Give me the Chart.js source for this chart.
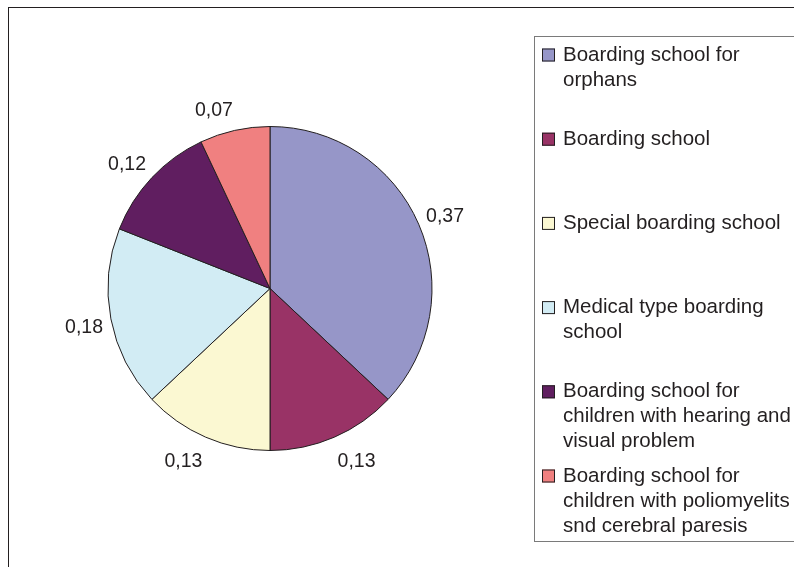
<!DOCTYPE html>
<html>
<head>
<meta charset="utf-8">
<script src="https://cdn.jsdelivr.net/npm/chart.js@4.4.0/dist/chart.umd.min.js"></script>
<style>
  html, body { margin: 0; padding: 0; background: #fff; }
  #wrap { width: 794px; height: 567px; position: relative; }
</style>
</head>
<body>
<div id="wrap"><canvas id="chart" width="794" height="567"></canvas></div>
<script>
// categories (legend lines kept as they wrap in the original)
const categories = [
    ['Boarding school for', 'orphans'],
    ['Boarding school'],
    ['Special boarding school'],
    ['Medical type boarding', 'school'],
    ['Boarding school for', 'children with hearing and', 'visual problem'],
    ['Boarding school for', 'children with poliomyelits', 'snd cerebral paresis']
];
const shares = [0.37, 0.13, 0.13, 0.18, 0.12, 0.07];
const sliceColors = ['#9696c8', '#993366', '#fbf8d2', '#d2ecf4', '#601e60', '#f08080'];

const FONT = '"Liberation Sans", Arial, sans-serif';
const TEXT_COLOR = '#231f20';

function fmt(v) {
    return v.toFixed(2).replace('.', ',');
}

// outer frame + legend box, drawn on the canvas
const framePlugin = {
    id: 'frame',
    beforeDraw: function (chart) {
        const ctx = chart.ctx;
        ctx.save();
        ctx.fillStyle = '#fff';
        ctx.fillRect(0, 0, chart.width, chart.height);
        ctx.strokeStyle = '#231f20';
        ctx.lineWidth = 1;
        ctx.strokeRect(8.5, 7.5, 800, 600);
        ctx.restore();
    },
    afterDraw: function (chart) {
        const ctx = chart.ctx;
        const meta = chart.getDatasetMeta(0);
        ctx.save();
        // legend box
        ctx.strokeStyle = '#7a7a7a';
        ctx.lineWidth = 1;
        ctx.strokeRect(534.5, 36.5, 300, 505);
        ctx.font = '20.5px ' + FONT;
        ctx.textBaseline = 'middle';
        ctx.textAlign = 'left';
        categories.forEach(function (lines, i) {
            const y0 = 55 + i * 84.2;
            ctx.fillStyle = sliceColors[i];
            ctx.fillRect(542, y0 - 6.5, 13, 13);
            ctx.strokeStyle = '#231f20';
            ctx.strokeRect(542.5, y0 - 6, 12, 12);
            ctx.fillStyle = TEXT_COLOR;
            lines.forEach(function (line, j) {
                ctx.fillText(line, 563, y0 + j * 25);
            });
        });
        // value labels outside the slices (pushed sideways like the original)
        ctx.font = '19.5px ' + FONT;
        ctx.textAlign = 'center';
        meta.data.forEach(function (arc, i) {
            const p = arc.getProps(['x', 'y', 'startAngle', 'endAngle', 'outerRadius'], true);
            const mid = (p.startAngle + p.endAngle) / 2;
            const ux = Math.cos(mid), uy = Math.sin(mid);
            const lx = p.x + (p.outerRadius + 8) * ux + 19 * Math.sign(ux);
            const ly = p.y + (p.outerRadius + 21) * uy + 2 * Math.sign(uy) + 3;
            ctx.fillStyle = TEXT_COLOR;
            ctx.fillText(fmt(shares[i]), lx, ly);
        });
        ctx.restore();
    }
};

new Chart(document.getElementById('chart'), {
    type: 'pie',
    data: {
        labels: categories,
        datasets: [{
            data: shares,
            backgroundColor: sliceColors,
            borderColor: '#231f20',
            borderWidth: 1
        }]
    },
    options: {
        responsive: false,
        animation: false,
        devicePixelRatio: 1,
        layout: {
            padding: { left: 107, right: 361, top: 126, bottom: 116 }
        },
        plugins: {
            legend: { display: false },
            tooltip: { enabled: false }
        }
    },
    plugins: [framePlugin]
});
</script>
</body>
</html>
